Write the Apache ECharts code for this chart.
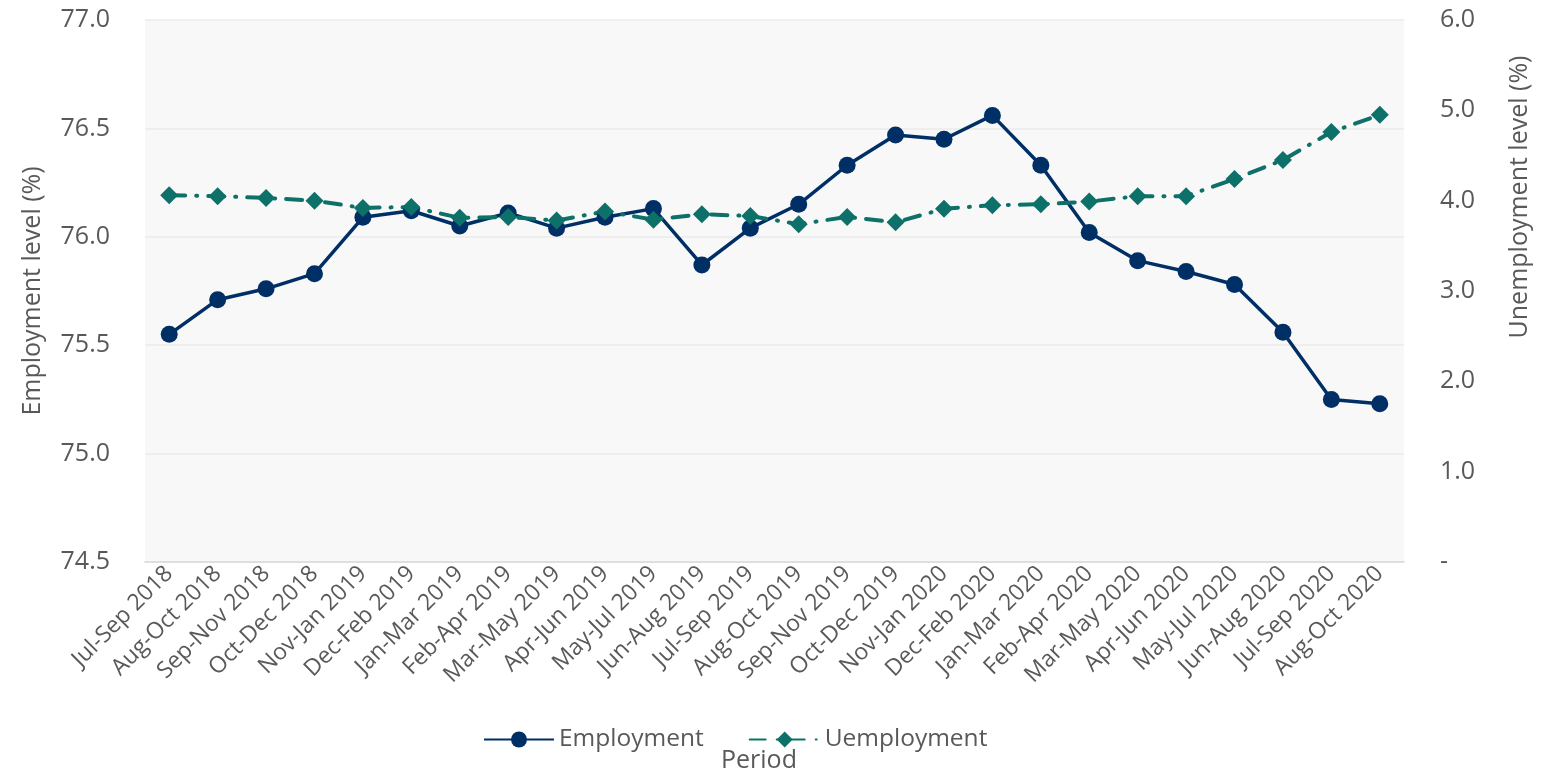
<!DOCTYPE html>
<html><head><meta charset="utf-8">
<script src="https://cdn.jsdelivr.net/npm/echarts@6/dist/echarts.min.js"></script>
<style>html,body{margin:0;padding:0;background:#fff}#c{width:1549px;height:772px}</style>
</head><body><div id="c"></div>
<script>
const categories = ["Jul-Sep 2018","Aug-Oct 2018","Sep-Nov 2018","Oct-Dec 2018","Nov-Jan 2019","Dec-Feb 2019","Jan-Mar 2019","Feb-Apr 2019","Mar-May 2019","Apr-Jun 2019","May-Jul 2019","Jun-Aug 2019","Jul-Sep 2019","Aug-Oct 2019","Sep-Nov 2019","Oct-Dec 2019","Nov-Jan 2020","Dec-Feb 2020","Jan-Mar 2020","Feb-Apr 2020","Mar-May 2020","Apr-Jun 2020","May-Jul 2020","Jun-Aug 2020","Jul-Sep 2020","Aug-Oct 2020"];
const employment = [75.55,75.71,75.76,75.83,76.09,76.12,76.05,76.11,76.04,76.09,76.13,75.87,76.04,76.15,76.33,76.47,76.45,76.56,76.33,76.02,75.89,75.84,75.78,75.56,75.25,75.23];
const unemployment = [4.06,4.05,4.03,4.00,3.92,3.93,3.81,3.82,3.78,3.88,3.79,3.85,3.83,3.74,3.82,3.76,3.91,3.95,3.96,3.99,4.05,4.05,4.24,4.45,4.76,4.95];
const leftTicks = {min:74.5, max:77.0, interval:0.5};
const rightTicks = {min:0, max:6, interval:1};

const FONT = "Open Sans";
const TXT = "#595959";
const chart = echarts.init(document.getElementById('c'));
chart.setOption({
  animation:false,
  textStyle:{fontFamily:FONT},
  title:{text:"Period", left:716, top:743, textStyle:{fontFamily:FONT, fontSize:25, fontWeight:'normal', color:TXT}},
  legend:{left:478, top:722, itemWidth:70, itemHeight:20, itemGap:45,
    textStyle:{fontFamily:FONT, fontSize:24.5, color:TXT},
    data:["Employment","Uemployment"]},
  grid:{left:145, right:145, top:20, bottom:210, show:true, backgroundColor:"#f8f8f8", borderWidth:0},
  xAxis:{type:'category', data:categories, boundaryGap:true,
    axisLine:{lineStyle:{color:"#d9d9d9", width:1.5}}, axisTick:{show:false},
    axisLabel:{rotate:45, fontSize:23, color:TXT, interval:0, margin:8}},
  yAxis:[
    {type:'value', min:leftTicks.min, max:leftTicks.max, interval:leftTicks.interval,
     name:"Employment level (%)", nameLocation:'middle', nameGap:100, nameRotate:90,
     nameTextStyle:{fontSize:25, color:TXT, fontFamily:FONT},
     axisLine:{show:false}, axisTick:{show:false},
     axisLabel:{fontSize:25, color:TXT, margin:35, formatter:v=>v.toFixed(1)},
     splitLine:{lineStyle:{color:"#ebebeb", width:1.5}}},
    {type:'value', min:rightTicks.min, max:rightTicks.max, interval:rightTicks.interval,
     name:"Unemployment level (%)", nameLocation:'middle', nameGap:103, nameRotate:90,
     nameTextStyle:{fontSize:25, color:TXT, fontFamily:FONT, padding:[0,0,0,188]},
     axisLine:{show:false}, axisTick:{show:false},
     axisLabel:{fontSize:25, color:TXT, margin:36, formatter:v=>v===0?"-":v.toFixed(1)},
     splitLine:{show:false}}
  ],
  series:[
    {name:"Employment", type:'line', yAxisIndex:0, data:employment,
     symbol:'circle', symbolSize:17, color:"#002f66",
     lineStyle:{width:3.5, color:"#002f66"}, itemStyle:{color:"#002f66"}},
    {name:"Uemployment", type:'line', yAxisIndex:1, data:unemployment,
     symbol:'diamond', symbolSize:18, color:"#0d7069",
     lineStyle:{width:4, color:"#0d7069", type:[16,11,1,11], cap:'round'}, itemStyle:{color:"#0d7069"}}
  ]
});
</script></body></html>
